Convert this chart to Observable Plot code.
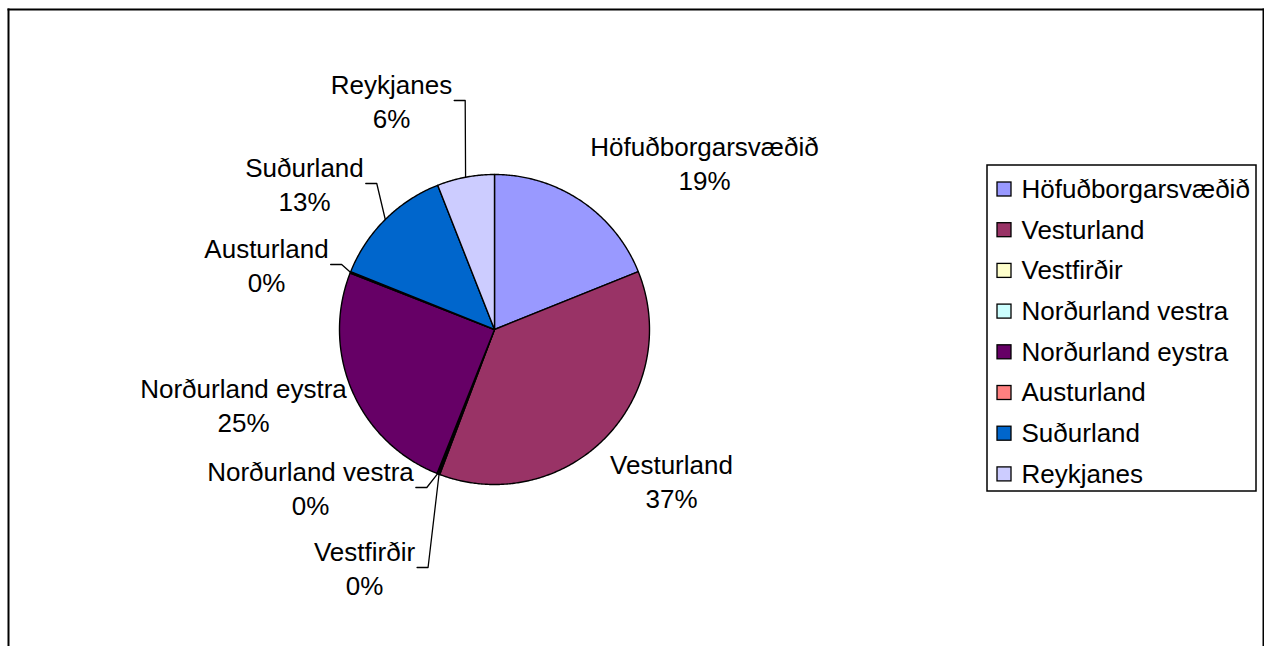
<!DOCTYPE html>
<html>
<head>
<meta charset="utf-8">
<script src="https://cdn.jsdelivr.net/npm/d3@7"></script>
<script src="https://cdn.jsdelivr.net/npm/@observablehq/plot@0.6"></script>
<style>
  body { margin: 0; background: #fff; }
  #chart svg { display: block; }
</style>
</head>
<body>
<div id="chart"></div>
<script>
// ---------- DATA ----------
const categories = ["Höfuðborgarsvæðið", "Vesturland", "Vestfirðir", "Norðurland vestra",
                    "Norðurland eystra", "Austurland", "Suðurland", "Reykjanes"];
const values = [19, 37, 0.15, 0.15, 25, 0.15, 13, 6];
const colors = ["#9999FF", "#993366", "#FFFFCC", "#CCFFFF", "#660066", "#FF8080", "#0066CC", "#CCCCFF"];

// ---------- LAYOUT ----------
const W = 1264, H = 646;
const cx = 494, cy = 329, R = 155;
const FONT_SIZE = 26;
const FONT_FAMILY = "'Liberation Sans', Arial, Helvetica, sans-serif";
const LINE_H = 34 / FONT_SIZE;
// label block centres, relative to the pie centre (Excel moved these)
const labelOffsets = {
  "Höfuðborgarsvæðið": [210, -167],
  "Vesturland": [177, 151],
  "Vestfirðir": [-130, 238],
  "Norðurland vestra": [-184, 158],
  "Norðurland eystra": [-251, 75],
  "Austurland": [-228, -65],
  "Suðurland": [-190, -146],
  "Reykjanes": [-103, -229]
};
const withLeader = new Set(["Reykjanes", "Suðurland", "Austurland", "Norðurland vestra", "Vestfirðir"]);
const legendBox = {x1: 987, x2: 1256, y1: 165, y2: 491};
const legendRow0 = 189, legendStep = 40.7, legendSwatchX = 997, legendSwatch = 14, legendTextX = 1021;

// ---------- DERIVED ----------
const total = d3.sum(values);
const arcs = d3.pie().sort(null).value(d => d)(values);
const polar = (a, r) => [cx + r * Math.sin(a), cy - r * Math.cos(a)];

const ctx = document.createElement("canvas").getContext("2d");
ctx.font = `${FONT_SIZE}px ${FONT_FAMILY}`;
const textW = s => ctx.measureText(s).width;

const slices = arcs.map((a, i) => {
  const n = Math.max(2, Math.ceil((a.endAngle - a.startAngle) / (Math.PI / 360)));
  const pts = [{cat: categories[i], x: cx, y: cy}];
  for (let k = 0; k <= n; k++) {
    const t = a.startAngle + (a.endAngle - a.startAngle) * k / n;
    const [x, y] = polar(t, R);
    pts.push({cat: categories[i], x, y});
  }
  pts.push({cat: categories[i], x: cx, y: cy});
  return pts;
});

const labels = categories.map((c, i) => {
  const [dx, dy] = labelOffsets[c];
  return {cat: c, x: cx + dx, y: cy + dy, text: `${c}\n${Math.round(values[i] / total * 100)}%`};
});

const leaders = [];
arcs.forEach((a, i) => {
  const c = categories[i];
  if (!withLeader.has(c)) return;
  const lab = labels[i];
  const right = lab.x + Math.max(textW(c), textW("100%")) / 2;
  const mid = (a.startAngle + a.endAngle) / 2;
  const [ex, ey] = polar(mid, R);
  leaders.push({cat: c, x: right + 2, y: lab.y});
  leaders.push({cat: c, x: right + 13, y: lab.y});
  leaders.push({cat: c, x: ex, y: ey});
});

const legend = categories.map((c, i) => ({cat: c, color: colors[i], y: legendRow0 + i * legendStep}));

const marks = [
  Plot.frame({anchor: "top", stroke: "#000", strokeWidth: 2}),
  Plot.frame({anchor: "left", stroke: "#000", strokeWidth: 2}),
  Plot.frame({anchor: "right", stroke: "#000", strokeWidth: 2}),
  ...slices.map((pts, i) => Plot.line(pts, {
    x: "x", y: "y", fill: colors[i], stroke: "#000", strokeWidth: 1.4, strokeLinejoin: "round"
  })),
  Plot.line(leaders, {x: "x", y: "y", z: "cat", stroke: "#000", strokeWidth: 1.3}),
  Plot.text(labels, {
    x: "x", y: "y", text: "text", textAnchor: "middle", lineAnchor: "middle",
    lineHeight: LINE_H, fontSize: FONT_SIZE, fill: "#000"
  }),
  Plot.rect([legendBox], {x1: "x1", x2: "x2", y1: "y1", y2: "y2", fill: "#fff", stroke: "#000", strokeWidth: 1.5}),
  Plot.rect(legend, {
    x1: () => legendSwatchX, x2: () => legendSwatchX + legendSwatch,
    y1: d => d.y - legendSwatch / 2, y2: d => d.y + legendSwatch / 2,
    fill: "color", stroke: "#000", strokeWidth: 1.3
  }),
  Plot.text(legend, {
    x: () => legendTextX, y: "y", text: "cat", textAnchor: "start", lineAnchor: "middle",
    fontSize: FONT_SIZE, fill: "#000"
  })
];

const chart = Plot.plot({
  width: W, height: H,
  marginLeft: 8, marginTop: 9, marginRight: 1, marginBottom: 0,
  x: {type: "linear", domain: [8, 1263], axis: null},
  y: {type: "linear", domain: [9, 646], reverse: true, axis: null},
  color: {type: "identity"},
  style: {fontFamily: FONT_FAMILY, fontSize: `${FONT_SIZE}px`, background: "#fff", color: "#000", overflow: "visible"},
  marks
});
document.getElementById("chart").append(chart);
</script>
</body>
</html>
